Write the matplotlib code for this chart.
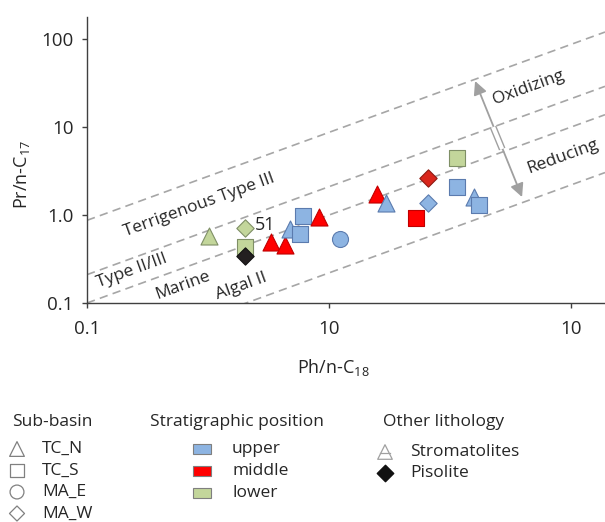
import matplotlib
matplotlib.use("Agg")
import matplotlib.pyplot as plt
from matplotlib.patches import Rectangle

plt.rcParams["font.family"] = ["Open Sans", "DejaVu Sans"]
plt.rcParams["mathtext.fontset"] = "custom"
plt.rcParams["mathtext.rm"] = "Open Sans"
plt.rcParams["mathtext.it"] = "Open Sans:italic"
plt.rcParams["lines.scale_dashes"] = False

# Samples
ph_c18 = [0.32, 0.45, 0.45, 0.45, 0.575, 0.66, 0.69, 0.76, 0.78, 0.91,
          1.11, 1.58, 1.72, 2.56, 2.56, 2.29, 3.38, 3.38, 3.97, 4.17]
pr_c17 = [0.57, 0.71, 0.43, 0.34, 0.49, 0.46, 0.69, 0.61, 0.97, 0.95,
          0.53, 1.73, 1.37, 2.63, 1.37, 0.92, 4.45, 2.08, 1.59, 1.30]
sub_basin = ["TC_N", "MA_W", "TC_S", "MA_W", "TC_N", "TC_N", "TC_N", "TC_S", "TC_S", "TC_N",
             "MA_E", "TC_N", "TC_N", "MA_W", "MA_W", "TC_S", "TC_S", "TC_S", "TC_N", "TC_S"]
position = ["lower", "lower", "lower", "pisolite", "middle", "middle", "upper", "upper", "upper", "middle",
            "upper", "middle", "upper", "middle", "upper", "middle", "lower", "upper", "upper", "upper"]
labelled = {1: "51"}

# dashed boundary lines Pr/n-C17 = k * Ph/n-C18
line_ratios = [8.7, 2.1, 1.0, 0.22]
zone_labels = ["Terrigenous Type III", "Type II/III", "Marine", "Algal II"]
zone_pos = [(0.29, 1.30), (0.153, 0.23), (0.249, 0.16), (0.433, 0.156)]

sub_basins = ["TC_N", "TC_S", "MA_E", "MA_W"]
positions = ["upper", "middle", "lower"]

markers = {"TC_N": "^", "TC_S": "s", "MA_E": "o", "MA_W": "D"}
msize = {"TC_N": 150, "TC_S": 117, "MA_E": 133, "MA_W": 78}
fills = {"upper": "#8DB4E2", "middle": "#FF0000", "lower": "#C3D69B", "pisolite": "#231F20"}
edges = {"upper": "#5B7BAE", "middle": "#C00000", "lower": "#7F8F66", "pisolite": "#111111"}

fig = plt.figure(figsize=(6.05, 5.22), dpi=100)
W, H = 605, 522
ax = fig.add_axes([87 / W, (H - 303) / H, (W - 87) / W, (303 - 17) / H])
ax.set_xscale("log")
ax.set_yscale("log")
ax.set_xlim(0.1, 13.8)
ax.set_ylim(0.1, 178)

xs = [0.1, 13.8]
for k in line_ratios:
    ax.plot(xs, [k * v for v in xs], color="#A6A6A6", lw=1.2, dashes=(6, 3.8), zorder=1)

for txt, (tx, ty) in zip(zone_labels, zone_pos):
    ax.text(tx, ty, txt, rotation=20, rotation_mode="anchor", ha="center", va="center",
            fontsize=12.5, color="#262626")

ax.text(6.64, 27.7, "Oxidizing", rotation=20, rotation_mode="anchor", ha="center", va="center",
        fontsize=12.5, color="#262626")
ax.text(9.27, 4.56, "Reducing", rotation=20, rotation_mode="anchor", ha="center", va="center",
        fontsize=12.5, color="#262626")

# redox arrow
ax.annotate("", xy=(4.01, 33.3), xytext=(6.27, 1.60),
            arrowprops=dict(arrowstyle="<|-|>", color="#A0A0A0", lw=1.3, mutation_scale=20,
                            shrinkA=0, shrinkB=0), zorder=2)
ax.plot([4.76, 5.19], [10.0, 5.62], color="#A0A0A0", lw=5, solid_capstyle="butt", zorder=2)
ax.plot([4.76, 5.19], [10.0, 5.62], color="white", lw=3, solid_capstyle="butt", zorder=2)

for i, (x, y, sb, pos) in enumerate(zip(ph_c18, pr_c17, sub_basin, position)):
    fc = fills[pos]
    ec = edges[pos]
    if pos == "middle" and sb == "MA_W":
        fc, ec = "#D9261C", "#8E1A12"
    ax.scatter(x, y, marker=markers[sb], s=msize[sb], facecolor=fc, edgecolor=ec,
               linewidth=0.8, zorder=3)
    if i in labelled:
        ax.annotate(labelled[i], (x, y), xytext=(7, 2), textcoords="offset points",
                    ha="left", va="center", fontsize=13, color="#262626")

for s in ["top", "right"]:
    ax.spines[s].set_visible(False)
for s in ["left", "bottom"]:
    ax.spines[s].set_color("#404040")
    ax.spines[s].set_linewidth(1.0)

ax.set_xticks([0.1, 1, 10])
ax.set_xticklabels(["0.1", "10", "10"])
ax.set_yticks([0.1, 1, 10, 100])
ax.set_yticklabels(["0.1", "1.0", "10", "100"])
ax.minorticks_off()
ax.tick_params(axis="both", direction="out", length=3.5, width=1.0, color="#404040",
               labelsize=13.5, labelcolor="#262626")
ax.tick_params(axis="x", pad=9)
ax.tick_params(axis="y", pad=6)

fig.text(22 / W, 1 - 175 / H, "Pr/n-C$_{17}$", rotation=90, ha="center", va="center",
         fontsize=13, color="#262626")
fig.text(333 / W, 1 - 367 / H, "Ph/n-C$_{18}$", ha="center", va="center",
         fontsize=13, color="#262626")

# legend block drawn in pixel space
lax = fig.add_axes([0, 0, 1, 1])
lax.set_xlim(0, W)
lax.set_ylim(H, 0)
lax.axis("off")
lfs = 12.5
tc = "#262626"

lax.text(12, 422, "Sub-basin", fontsize=lfs, color=tc, va="center", ha="left")
for j, sb in enumerate(sub_basins):
    yy = 449 + j * 21.5
    lax.scatter(17, yy, marker=markers[sb], s=msize[sb] * 0.75, facecolor="none",
                edgecolor="#808080", linewidth=0.9)
    lax.text(42, yy, sb, fontsize=lfs, color=tc, va="center", ha="left")

lax.text(150, 422, "Stratigraphic position", fontsize=lfs, color=tc, va="center", ha="left")
for j, pos in enumerate(positions):
    yy = 449 + j * 22
    lax.add_patch(Rectangle((193, yy - 5), 18, 10, facecolor=fills[pos], edgecolor="#7F7F7F",
                            linewidth=0.8))
    lax.text(232, yy, pos, fontsize=lfs, color=tc, va="center", ha="left")

lax.text(383, 422, "Other lithology", fontsize=lfs, color=tc, va="center", ha="left")
lax.scatter(385, 452, marker="^", s=110, facecolor="none", edgecolor="#A0A0A0", linewidth=0.9)
lax.plot([380, 390], [453, 453], color="#A0A0A0", lw=0.9)
lax.text(410, 452, "Stromatolites", fontsize=lfs, color=tc, va="center", ha="left")
lax.scatter(385, 473, marker="D", s=70, facecolor="#111111", edgecolor="#111111")
lax.text(410, 473, "Pisolite", fontsize=lfs, color=tc, va="center", ha="left")

fig.savefig("out.png", dpi=100)
